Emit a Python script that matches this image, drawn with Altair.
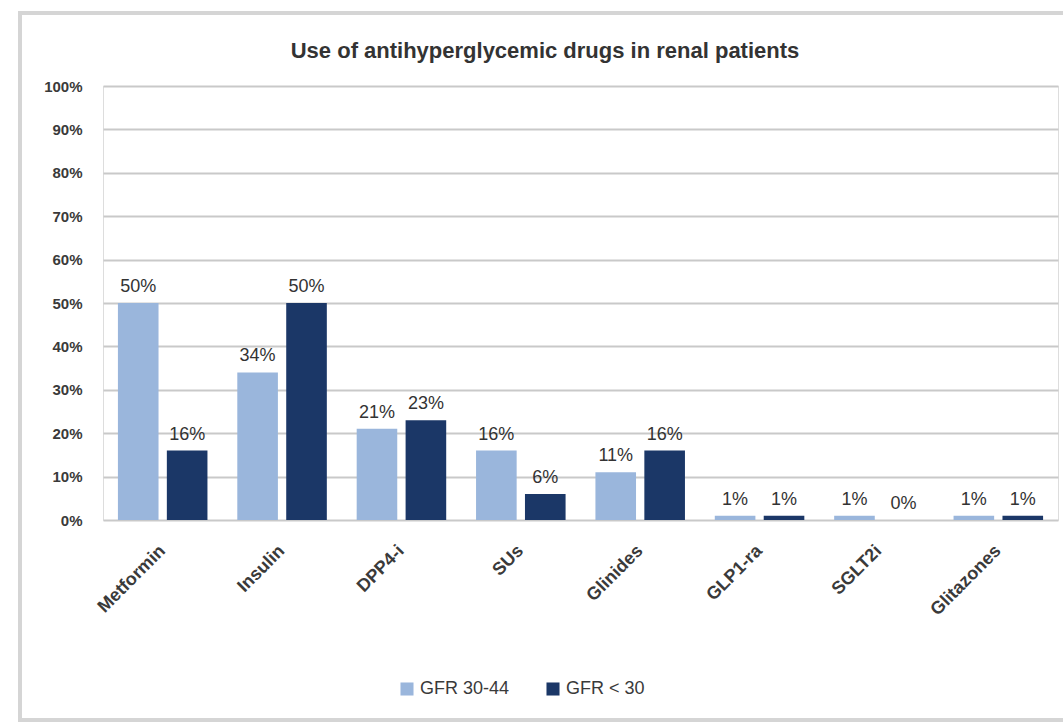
import altair as alt
import pandas as pd

# Share of patients using each drug class, by kidney function group (%)
drugs = ["Metformin", "Insulin", "DPP4-i", "SUs", "Glinides", "GLP1-ra", "SGLT2i", "Glitazones"]
groups = ["GFR 30-44", "GFR < 30"]
gfr_30_44 = [50, 34, 21, 16, 11, 1, 1, 1]
gfr_below_30 = [16, 50, 23, 6, 16, 1, 0, 1]
colors = ["#9ab6dc", "#1b3767"]
title_text = "Use of antihyperglycemic drugs in renal patients"

rows = []
for i, d in enumerate(drugs):
    rows.append({"drug": d, "group": groups[0], "pct": gfr_30_44[i]})
    rows.append({"drug": d, "group": groups[1], "pct": gfr_below_30[i]})
df = pd.DataFrame(rows)

FONT = "Liberation Sans"

x_enc = alt.X(
    "drug:N",
    sort=drugs,
    scale=alt.Scale(paddingInner=0.25, paddingOuter=0.125),
    axis=alt.Axis(
        title=None,
        labelAngle=-45,
        labelAlign="right",
        labelBaseline="middle",
        labelPadding=28,
        labelFontSize=18,
        labelFontWeight="bold",
        labelColor="#3a3a3a",
        labelFont=FONT,
        ticks=False,
        domain=False,
    ),
)
xoff_enc = alt.XOffset("group:N", sort=groups, scale=alt.Scale(paddingInner=0.17, paddingOuter=0))
y_enc = alt.Y(
    "pct:Q",
    scale=alt.Scale(domain=[0, 100]),
    axis=alt.Axis(
        title=None,
        values=list(range(0, 101, 10)),
        labelExpr="datum.value + '%'",
        labelFontSize=15,
        labelFontWeight="bold",
        labelColor="#3a3a3a",
        labelFont=FONT,
        labelPadding=21,
        ticks=False,
        domain=False,
        grid=True,
        gridColor="#c9c9c9",
        gridWidth=2,
    ),
)
color_enc = alt.Color(
    "group:N",
    sort=groups,
    scale=alt.Scale(domain=groups, range=colors),
    legend=alt.Legend(
        title=None,
        orient="none",
        direction="horizontal",
        legendX=295,
        legendY=594,
        symbolType="square",
        symbolSize=170,
        symbolStrokeWidth=0,
        labelFontSize=18,
        labelFont=FONT,
        labelColor="#3a3a3a",
        columnPadding=34,
    ),
)

base = alt.Chart(df).encode(x=x_enc, xOffset=xoff_enc, y=y_enc)

bars = base.mark_bar().encode(color=color_enc)

labels = base.transform_calculate(txt="datum.pct + '%'").mark_text(
    baseline="bottom", dy=-7, fontSize=18, font=FONT, color="#333333"
).encode(text="txt:N")

# frame around the whole chart area
frame = alt.Chart(df).mark_rect(
    fill=None, stroke="#d5d5d5", strokeWidth=4
).encode(
    x=alt.value(-83), x2=alt.value(980), y=alt.value(-73), y2=alt.value(634)
)

# chart heading, centred on the frame
heading = alt.Chart(pd.DataFrame({"t": [title_text]})).mark_text(
    fontSize=22, fontWeight="bold", font=FONT, color="#333333",
    align="center", baseline="middle",
).encode(text="t:N", x=alt.value(442), y=alt.value(-35))

chart = (
    alt.layer(frame, bars, labels, heading)
    .properties(
        width=955,
        height=434,
        autosize=alt.AutoSizeParams(type="none"),
        padding={"left": 103, "top": 86, "right": 5, "bottom": 204},
    )
    .configure_view(stroke=None)
    .configure(background="white")
)

chart.save("out.html", embed_options={"renderer": "svg", "actions": False})
